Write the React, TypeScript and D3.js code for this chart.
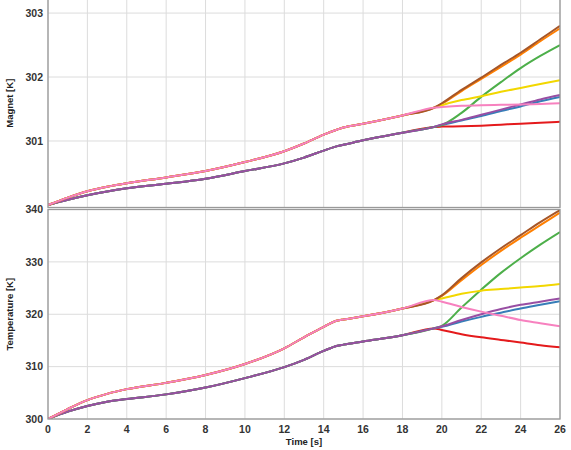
import * as d3 from "d3"

// shared part of the runs before the split at t = 19.6 s
const timeCommon = [0, 1, 2, 3, 4, 6, 8, 10, 12, 13, 14, 14.7, 15, 16, 18, 19.6]
const magnetUpper = [300.0, 300.115, 300.215, 300.285, 300.34, 300.43, 300.53, 300.67, 300.84, 300.96, 301.1, 301.18, 301.21, 301.27, 301.4, 301.52]
const magnetLower = [300.0, 300.08, 300.15, 300.21, 300.26, 300.33, 300.41, 300.53, 300.65, 300.74, 300.85, 300.92, 300.94, 301.01, 301.13, 301.22]
const tempUpper = [300, 301.9, 303.6, 304.8, 305.7, 306.9, 308.4, 310.5, 313.5, 315.6, 317.6, 318.8, 319.0, 319.6, 321.1, 322.7]
const tempLower = [300, 301.4, 302.5, 303.3, 303.8, 304.7, 306.0, 307.8, 309.9, 311.3, 313.0, 314.0, 314.2, 314.8, 316.0, 317.3]

// tails after the split
const timeTail = [20, 21, 22, 23, 24, 25, 26]

const seriesNames = ["red", "blue", "green", "purple", "orange", "yellow", "brown", "pink"]
const seriesColors = ["#e41a1c", "#377eb8", "#4daf4a", "#984ea3", "#ff7f00", "#f2d700", "#a65628", "#f781bf"]
const seriesGroup = ["lower", "lower", "lower", "lower", "upper", "upper", "upper", "upper"]

const magnetTails = [
  [301.225, 301.23, 301.24, 301.255, 301.27, 301.285, 301.3],
  [301.25, 301.32, 301.39, 301.47, 301.54, 301.62, 301.69],
  [301.25, 301.44, 301.69, 301.92, 302.14, 302.33, 302.5],
  [301.26, 301.33, 301.41, 301.49, 301.57, 301.65, 301.72],
  [301.58, 301.78, 301.97, 302.16, 302.35, 302.56, 302.76],
  [301.56, 301.64, 301.7, 301.77, 301.83, 301.89, 301.95],
  [301.59, 301.8, 301.99, 302.19, 302.38, 302.59, 302.8],
  [301.53, 301.55, 301.56, 301.565, 301.57, 301.58, 301.59],
]

const tempTails = [
  [317.0, 316.2, 315.6, 315.1, 314.6, 314.1, 313.7],
  [317.6, 318.6, 319.5, 320.3, 321.1, 321.8, 322.5],
  [317.8, 321.3, 324.7, 327.9, 330.7, 333.3, 335.7],
  [317.7, 318.9, 320.0, 321.0, 321.8, 322.4, 323.0],
  [323.5, 326.5, 329.4, 332.1, 334.6, 337.0, 339.4],
  [323.0, 323.9, 324.5, 324.8, 325.1, 325.4, 325.8],
  [323.6, 326.9, 329.9, 332.6, 335.1, 337.6, 339.9],
  [322.4, 321.4, 320.5, 319.7, 318.9, 318.3, 317.7],
]

const xTicks = [0, 2, 4, 6, 8, 10, 12, 14, 16, 18, 20, 22, 24, 26]
const magnetTicks = [301, 302, 303]
const tempTicks = [300, 310, 320, 330, 340]

const W = 571
const H = 450
const left = 48
const right = 560
const font = "'Liberation Sans', Arial, sans-serif"

type Pt = { t: number; v: number }

function buildSeries(upper: number[], lower: number[], tails: number[][]): Pt[][] {
  return seriesNames.map((_, i) => {
    const base = seriesGroup[i] === "upper" ? upper : lower
    const times = [...timeCommon, ...timeTail]
    const vals = [...base, ...tails[i]]
    return times.map((t, k) => ({ t, v: vals[k] }))
  })
}

function Panel({
  top,
  bottom,
  domain,
  ticks,
  title,
  series,
  showX,
}: {
  top: number
  bottom: number
  domain: [number, number]
  ticks: number[]
  title: string
  series: Pt[][]
  showX: boolean
}) {
  const x = d3.scaleLinear().domain([0, 26]).range([left, right])
  const y = d3.scaleLinear().domain(domain).range([bottom, top])
  const line = d3
    .line<Pt>()
    .x(d => x(d.t))
    .y(d => y(d.v))
    .curve(d3.curveMonotoneX)
  const clipId = `clip-${title.replace(/\W/g, "")}`

  return (
    <g>
      <defs>
        <clipPath id={clipId}>
          <rect x={left} y={top} width={right - left} height={bottom - top} />
        </clipPath>
      </defs>
      {xTicks.map(t => (
        <line key={`gx${t}`} x1={x(t)} x2={x(t)} y1={top} y2={bottom} stroke="#dcdcdc" strokeWidth={1} />
      ))}
      {ticks.map(v => (
        <line key={`gy${v}`} x1={left} x2={right} y1={y(v)} y2={y(v)} stroke="#dcdcdc" strokeWidth={1} />
      ))}
      <g clipPath={`url(#${clipId})`}>
        {series.map((s, i) => (
          <path key={seriesNames[i]} d={line(s) ?? ""} fill="none" stroke={seriesColors[i]} strokeWidth={2} />
        ))}
      </g>
      <rect x={left} y={top} width={right - left} height={bottom - top} fill="none" stroke="#999" strokeWidth={1.3} />
      {ticks.map(v => (
        <text
          key={`ty${v}`}
          x={left - 5}
          y={y(v)}
          dy="0.35em"
          textAnchor="end"
          fontFamily={font}
          fontWeight="bold"
          fontSize={10.5}
          fill="#333"
        >
          {v}
        </text>
      ))}
      <text
        transform={`translate(13,${(top + bottom) / 2}) rotate(-90)`}
        textAnchor="middle"
        fontFamily={font}
        fontWeight="bold"
        fontSize={9.5}
        fill="#222"
      >
        {title}
      </text>
      {showX &&
        xTicks.map(t => (
          <text
            key={`tx${t}`}
            x={x(t)}
            y={bottom + 14}
            textAnchor="middle"
            fontFamily={font}
            fontWeight="bold"
            fontSize={10.5}
            fill="#333"
          >
            {t}
          </text>
        ))}
      {showX && (
        <text
          x={(left + right) / 2}
          y={bottom + 26}
          textAnchor="middle"
          fontFamily={font}
          fontWeight="bold"
          fontSize={9.5}
          fill="#222"
        >
          Time [s]
        </text>
      )}
    </g>
  )
}

export default function App() {
  const magnetSeries = buildSeries(magnetUpper, magnetLower, magnetTails)
  const tempSeries = buildSeries(tempUpper, tempLower, tempTails)
  return (
    <svg
      width={W}
      height={H}
      style={{ position: "absolute", left: 0, top: 0, background: "#fff" }}
    >
      <Panel
        top={-1}
        bottom={207.5}
        domain={[299.96, 303.22]}
        ticks={magnetTicks}
        title="Magnet [K]"
        series={magnetSeries}
        showX={false}
      />
      <Panel
        top={209.5}
        bottom={419}
        domain={[300, 340]}
        ticks={tempTicks}
        title="Temperature [K]"
        series={tempSeries}
        showX={true}
      />
    </svg>
  )
}
